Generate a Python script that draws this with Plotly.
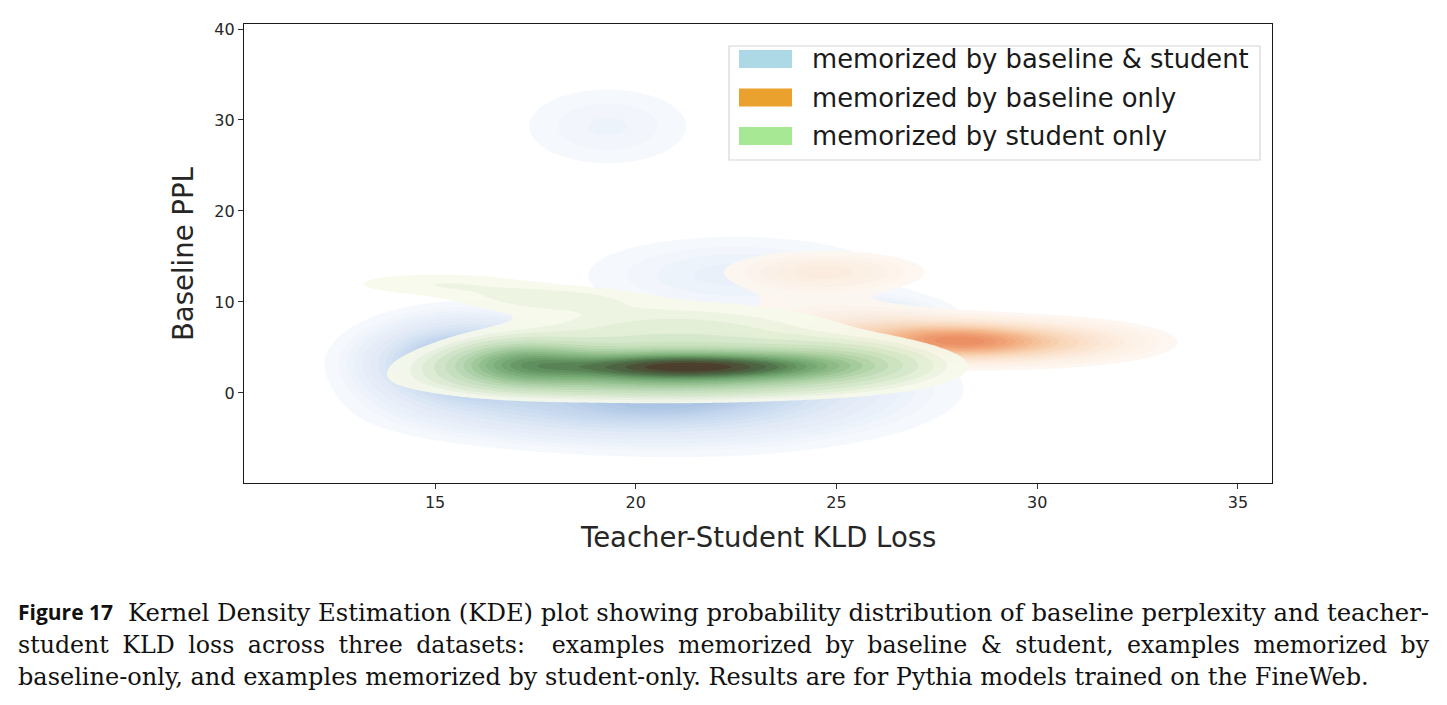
import numpy as np
import plotly.graph_objects as go

# ---------------- data ----------------
# Each dataset's KDE is described by a few Gaussian bumps:
# centre (KLD loss, baseline PPL), spread and share of mass.
both_cx = [21.5, 15.8, 22.5, 19.3, 25.8, 18.5]
both_cy = [0.5, 3.3, 13.0, 29.3, 8.5, -2.0]
both_sx = [2.8, 1.4, 2.3, 1.4, 1.2, 2.5]
both_sy = [3.1, 2.7, 2.6, 2.9, 1.4, 2.0]
both_w = [0.48, 0.29, 0.07, 0.035, 0.03, 0.10]

base_cx = [27.9, 29.7, 25.9, 24.7, 24.2]
base_cy = [5.7, 5.6, 6.6, 13.3, 9.5]
base_sx = [1.3, 1.7, 1.4, 1.4, 1.5]
base_sy = [1.2, 1.3, 1.4, 1.3, 1.5]
base_w = [0.36, 0.30, 0.18, 0.10, 0.03]

stud_cx = [21.4, 20.9, 20.5, 17.2, 21.0, 15.0, 17.8, 25.0]
stud_cy = [2.9, 2.8, 1.0, 3.3, 6.8, 12.0, 10.4, 3.5]
stud_sx = [2.0, 3.0, 3.2, 1.1, 2.8, 1.8, 1.6, 1.5]
stud_sy = [0.85, 1.5, 1.1, 1.5, 2.2, 1.0, 1.0, 1.5]
stud_w = [0.21, 0.36, 0.10, 0.12, 0.12, 0.02, 0.02, 0.06]

labels = ["memorized by baseline & student",
          "memorized by baseline only",
          "memorized by student only"]
legend_colors = ["#add8e6", "#eba12d", "#a6e894"]

x_ticks = [15, 20, 25, 30, 35]
y_ticks = [0, 10, 20, 30, 40]
x_range = [10.24, 35.85]
y_range = [-9.9, 40.55]

SP = "\u2005"  # extra justification space
caption_lines = [
    "Kernel Density Estimation (KDE) plot showing probability distribution of baseline perplexity and teacher-",
    ("student KLD loss across three datasets:  examples memorized by baseline & student, "
     "examples memorized by").replace(" ", " " + SP),
    "baseline-only, and examples memorized by student-only. Results are for Pythia models trained on the FineWeb.",
]

# ---------------- density grids ----------------
gx = np.linspace(x_range[0], x_range[1], 320)
gy = np.linspace(y_range[0], y_range[1], 420)
X, Y = np.meshgrid(gx, gy)


def density(cx, cy, sx, sy, w):
    z = np.zeros_like(X)
    for a, b, s, t, m in zip(cx, cy, sx, sy, w):
        z += m / (s * t) * np.exp(-0.5 * ((X - a) / s) ** 2 - 0.5 * ((Y - b) / t) ** 2)
    return z


def isoprop(z):
    # proportion of mass lying below each cell's density (seaborn-style levels)
    flat = z.ravel()
    order = np.argsort(flat)[::-1]
    cum = np.cumsum(flat[order]) / flat.sum()
    q = np.empty_like(flat)
    q[order] = 1.0 - cum
    return q.reshape(z.shape)


blue_scale = [[0, "rgba(255,255,255,0)"], [0.05, "rgb(245,248,253)"],
              [0.3, "rgb(225,234,247)"], [0.5, "rgb(202,219,240)"],
              [0.7, "rgb(182,205,233)"], [1, "rgb(150,180,220)"]]
orange_scale = [[0, "rgba(255,255,255,0)"], [0.05, "rgb(254,247,240)"],
                [0.3, "rgb(252,234,218)"], [0.55, "rgb(249,210,176)"],
                [0.8, "rgb(243,170,122)"], [1, "rgb(234,135,88)"]]
green_scale = [[0, "rgba(255,255,255,0)"], [0.05, "rgb(247,250,236)"],
               [0.15, "rgb(228,240,214)"], [0.3, "rgb(192,221,180)"],
               [0.45, "rgb(152,196,142)"], [0.6, "rgb(116,170,110)"],
               [0.75, "rgb(86,136,80)"], [0.88, "rgb(66,96,56)"],
               [1, "rgb(66,50,28)"]]

fig = go.Figure()
for (cx, cy, sx, sy, w), scale, name in [
    ((both_cx, both_cy, both_sx, both_sy, both_w), blue_scale, labels[0]),
    ((base_cx, base_cy, base_sx, base_sy, base_w), orange_scale, labels[1]),
    ((stud_cx, stud_cy, stud_sx, stud_sy, stud_w), green_scale, labels[2]),
]:
    q = isoprop(density(cx, cy, sx, sy, w))
    fig.add_trace(go.Contour(
        x=gx, y=gy, z=q, name=name,
        contours=dict(start=0.05, end=0.95, size=0.05, coloring="fill"),
        line=dict(width=0), colorscale=scale, showscale=False,
        hoverinfo="skip", opacity=0.92,
    ))

# ---------------- layout ----------------
W, H = 1447, 705
L, R, T, B = 244, 1272, 24, 483
pw, ph = R - L, B - T


def px(xp):
    return (xp - L) / pw


def py(yp):
    return (B - yp) / ph


font = "DejaVu Sans"
axis_common = dict(showline=True, linecolor="#1a1a1a", linewidth=1.3, mirror=True,
                   ticks="outside", ticklen=5, tickwidth=1.2, tickcolor="#333",
                   showgrid=False, zeroline=False,
                   tickfont=dict(family=font, size=16, color="#262626"))

fig.update_layout(
    width=W, height=H, paper_bgcolor="white", plot_bgcolor="white",
    margin=dict(l=L, r=W - R, t=T, b=H - B, autoexpand=False),
    showlegend=False,
    xaxis=dict(range=x_range, tickvals=x_ticks, **axis_common),
    yaxis=dict(range=y_range, tickvals=y_ticks, **axis_common),
)

annotations = [
    dict(text="Teacher-Student KLD Loss", x=px(758), y=py(537), xref="paper", yref="paper",
         showarrow=False, font=dict(family=font, size=27.5, color="#262626"),
         xanchor="center", yanchor="middle"),
    dict(text="Baseline PPL", x=px(183), y=py(254), xref="paper", yref="paper",
         showarrow=False, textangle=-90, font=dict(family=font, size=27.5, color="#262626"),
         xanchor="center", yanchor="middle"),
]

shapes = [dict(type="rect", xref="paper", yref="paper", x0=px(729), x1=px(1260),
               y0=py(160), y1=py(46), line=dict(color="#d6d6d6", width=1.2),
               fillcolor="rgba(255,255,255,0.85)", layer="above")]
rows = [59, 97.5, 136]
for lab, col, r in zip(labels, legend_colors, rows):
    shapes.append(dict(type="rect", xref="paper", yref="paper", x0=px(739), x1=px(792),
                       y0=py(r + 9), y1=py(r - 9), line=dict(width=0), fillcolor=col,
                       layer="above"))
    annotations.append(dict(text=lab, x=px(810), y=py(r), xref="paper", yref="paper",
                            showarrow=False, xanchor="left", yanchor="middle",
                            font=dict(family=font, size=25.8, color="#1a1a1a")))

serif = "DejaVu Serif"
cap_sizes = [24.3, 23.7, 24]
line_y = [612, 645, 677]
starts = [126, 16, 16]
annotations.append(dict(text="<b>Figure 17</b>", x=px(16), y=py(line_y[0]), xref="paper",
                        yref="paper", showarrow=False, xanchor="left", yanchor="middle",
                        font=dict(family="Open Sans", size=21, color="#111")))
for i, txt in enumerate(caption_lines):
    annotations.append(dict(text=txt, x=px(starts[i]), y=py(line_y[i]), xref="paper",
                            yref="paper", showarrow=False, xanchor="left", yanchor="middle",
                            font=dict(family=serif, size=cap_sizes[i], color="#111")))

fig.update_layout(annotations=annotations, shapes=shapes)
fig.write_html("out.html")
